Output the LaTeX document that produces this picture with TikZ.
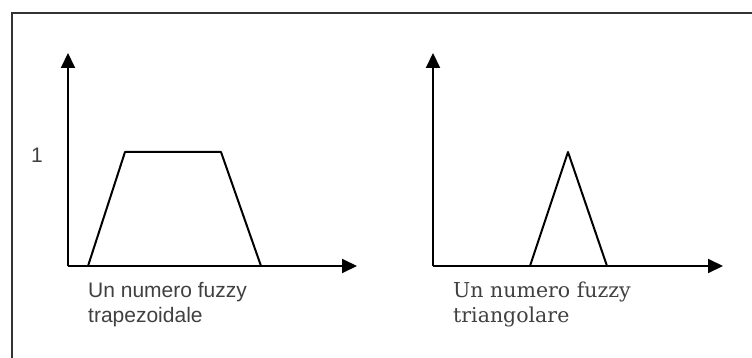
\documentclass[tikz,border=0pt]{standalone}
\usepackage{fontspec}
\setmainfont{Liberation Sans}
\newfontfamily\labelserif{DejaVu Serif}
\usetikzlibrary{arrows.meta}
\begin{document}
\begin{tikzpicture}[x=1pt,y=-1pt,
  axis/.style={line width=2pt,-{Triangle[length=15pt,width=14pt]}},
  curve/.style={line width=2pt,line join=round},
  caption/.style={anchor=north west,align=left,text=black!75,inner sep=0pt,
    font=\fontsize{21}{25}\selectfont},
  frame/.style={line width=2.5pt,draw=black!80}]
\useasboundingbox (0,0) rectangle (752,358);
% outer frame: left and top edges only
\draw[frame] (12,358) -- (12,13) -- (752,13);

% trapezoidal fuzzy number
\coordinate (o1) at (68,266);
\coordinate (ytop1) at (68,53);
\coordinate (xend1) at (357,266);
\draw[axis] (o1) -- (ytop1);
\draw[axis] (o1) -- (xend1);
\coordinate (ta) at (88,266);
\coordinate (tb) at (125,152);
\coordinate (tc) at (221,152);
\coordinate (td) at (261,266);
\draw[curve] (ta) -- (tb) -- (tc) -- (td);
\node[font=\fontsize{21}{25}\selectfont,text=black!75] (one) at (37,155) {1};
\node[caption] (cap1) at (88,282) {Un numero fuzzy\\trapezoidale};

% triangular fuzzy number
\coordinate (o2) at (433,266);
\coordinate (ytop2) at (433,53);
\coordinate (xend2) at (723,266);
\draw[axis] (o2) -- (ytop2);
\draw[axis] (o2) -- (xend2);
\coordinate (ra) at (530,266);
\coordinate (rb) at (568,152);
\coordinate (rc) at (607,266);
\draw[curve] (ra) -- (rb) -- (rc);
\node[caption,font=\labelserif\fontsize{20.5}{25}\selectfont] (cap2) at (453,282) {Un numero fuzzy\\triangolare};
\end{tikzpicture}
\end{document}
